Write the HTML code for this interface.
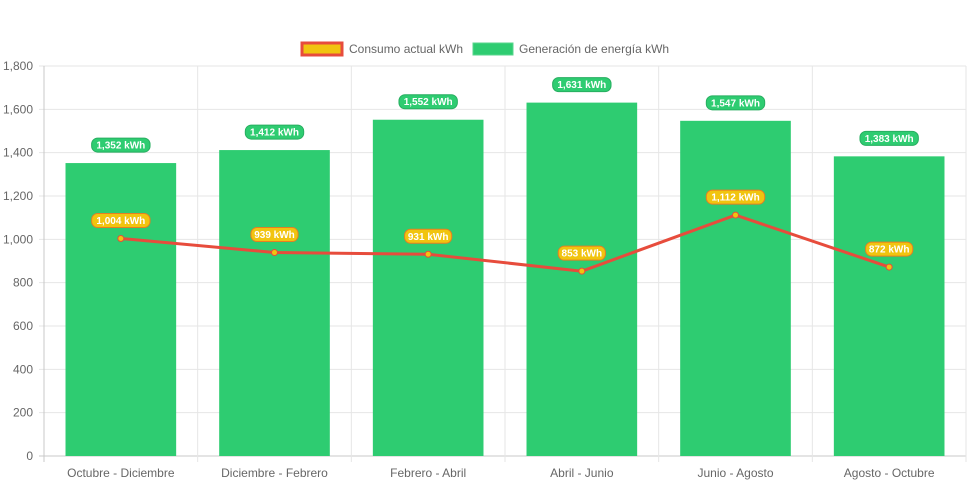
<!DOCTYPE html>
<html><head><meta charset="utf-8"><style>
body{margin:0;background:#fff;width:971px;height:485px;overflow:hidden;font-family:"Liberation Sans",Arial,sans-serif}
</style></head><body>
<svg id="c" width="971" height="485" xmlns="http://www.w3.org/2000/svg"></svg>
<script>
const categories=["Octubre - Diciembre","Diciembre - Febrero","Febrero - Abril","Abril - Junio","Junio - Agosto","Agosto - Octubre"];
const generation=[1352,1412,1552,1631,1547,1383];
const consumption=[1004,939,931,853,1112,872];
const yTicks=[0,200,400,600,800,1000,1200,1400,1600,1800];
const svg=document.getElementById('c');
const NS='http://www.w3.org/2000/svg';
const L=44,R=966,T=66,B=456,yMax=1800;
const bw=(R-L)/categories.length;
const y=v=>B-(v/yMax)*(B-T);
const xc=i=>L+bw*(i+0.5);
function mk(t,a,txt){const e=document.createElementNS(NS,t);for(const k in a)e.setAttribute(k,a[k]);if(txt!=null)e.textContent=txt;svg.appendChild(e);return e;}
const fmt=v=>v.toLocaleString('en-US');
// grid
yTicks.forEach(t=>{
 const g=mk('line',{x1:39,x2:R,y1:y(t),y2:y(t),stroke:t===0?'#c8c8c8':'#e6e6e6','stroke-width':1});
 
 
 const l=mk('text',{x:33,y:y(t)+4,'text-anchor':'end','font-size':12,fill:'#666'},fmt(t));
 
 
});
for(let i=0;i<=categories.length;i++){
 const g=mk('line',{x1:L+bw*i,x2:L+bw*i,y1:T,y2:B+6,stroke:i===0?'#c8c8c8':'#e6e6e6','stroke-width':1});
 
 
}
categories.forEach((c,i)=>{
 const t=mk('text',{x:xc(i),y:477,'text-anchor':'middle','font-size':12,fill:'#666'},c);
 
 
});
// bars
const barW=bw*0.72;
generation.forEach((v,i)=>{
 const r=mk('rect',{x:xc(i)-barW/2,y:y(v),width:barW,height:B-y(v),fill:'#2ecc71'});
 
 
});
// line
let d='';consumption.forEach((v,i)=>{d+=(i?'L':'M')+xc(i)+' '+y(v);});
const p=mk('path',{d:d,fill:'none',stroke:'#e74c3c','stroke-width':3});


consumption.forEach((v,i)=>{
 const c=mk('circle',{cx:xc(i),cy:y(v),r:3,fill:'#f1c40f',stroke:'#e74c3c','stroke-width':1});
 
 
});
function pill(cx,cy,txt,fill,stroke,name){
 const w=txt.length*5.6+8;
 const r=mk('rect',{x:cx-w/2,y:cy-7,width:w,height:14,rx:6,fill:fill,stroke:stroke,'stroke-width':1});
 
 
 const t=mk('text',{x:cx,y:cy+3.5,'text-anchor':'middle','font-size':10,'font-weight':'bold',fill:'#fff'},txt);
 
 
}
generation.forEach((v,i)=>pill(xc(i),y(v)-18,fmt(v)+' kWh','#2ecc71','#27ae60','generation-value-label'));
consumption.forEach((v,i)=>pill(xc(i),y(v)-18,fmt(v)+' kWh','#f1c40f','#e67e22','consumption-value-label'));
// legend
const l1=mk('rect',{x:302,y:43,width:40,height:12,fill:'#f1c40f',stroke:'#e74c3c','stroke-width':3});


const lt1=mk('text',{x:349,y:53,'font-size':12,fill:'#666'},'Consumo actual kWh');


const l2=mk('rect',{x:473,y:43,width:40,height:12,fill:'#2ecc71',stroke:'#58d68d','stroke-width':1});


const lt2=mk('text',{x:519,y:53,'font-size':12,fill:'#666'},'Generación de energía kWh');


</script>
</body></html>
